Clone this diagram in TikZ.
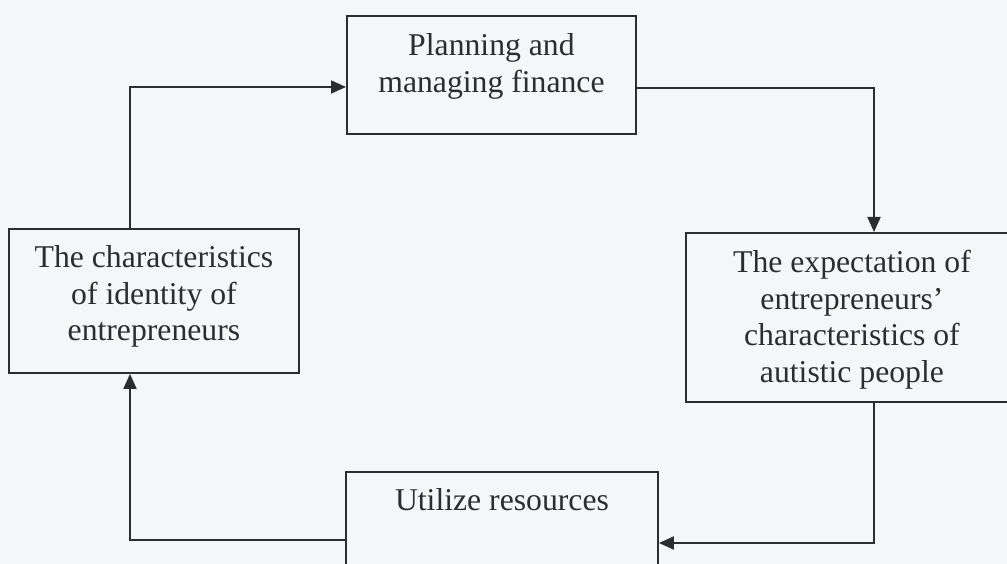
\documentclass[tikz,border=0pt]{standalone}
\usepackage{fontspec}
\setmainfont{Liberation Serif}
\usetikzlibrary{arrows.meta,calc}
\definecolor{ink}{RGB}{45,45,48}
\definecolor{paper}{RGB}{244,246,248}
\begin{document}
\begin{tikzpicture}[x=1pt,y=-1pt,
  box/.style={draw=ink, line width=1.9pt, text=ink, inner xsep=0pt, inner ysep=0pt,
    font=\fontsize{31.7}{36.5}\selectfont, anchor=north west},
  link/.style={draw=ink, line width=1.9pt, -{Triangle[length=15pt,width=13pt]}}]
\fill[paper] (0,0) rectangle (1007,564);
\useasboundingbox (0,0) rectangle (1007,564);
\clip (0,0) rectangle (1007,564);

\node[box, minimum width=289pt, text height=40pt, text depth=78pt] (plan) at (346,15)
  {\begin{tabular}[t]{@{}c@{}}Planning and\\managing finance\end{tabular}};
\node[box, minimum width=290pt, text height=39pt, text depth=105pt] (ident) at (8,228)
  {\begin{tabular}[t]{@{}c@{}}The characteristics\\of identity of\\entrepreneurs\end{tabular}};
\node[box, minimum width=332pt, text height=40pt, text depth=129pt] (expect) at (685,232)
  {\begin{tabular}[t]{@{}c@{}}The expectation of\\entrepreneurs’\\characteristics of\\autistic people\end{tabular}};
\node[box, minimum width=312pt, text height=39pt, text depth=100pt] (util) at (345,471)
  {\begin{tabular}[t]{@{}c@{}}Utilize resources\end{tabular}};

\coordinate (p1) at ($(ident.north west)+(122,0)$);
\coordinate (p2) at ($(plan.north west)+(0,72)$);
\draw[link] (p1) |- (p2);
\coordinate (p3) at ($(plan.north east)+(0,73)$);
\coordinate (p4) at ($(expect.north west)+(189,0)$);
\draw[link] (p3) -| (p4);
\coordinate (p5) at ($(expect.south west)+(189,0)$);
\coordinate (p6) at ($(util.north east)+(0,72)$);
\draw[link] (p5) |- (p6);
\coordinate (p7) at ($(util.north west)+(0,69)$);
\coordinate (p8) at ($(ident.south west)+(122,0)$);
\draw[link] (p7) -| (p8);
\end{tikzpicture}
\end{document}
